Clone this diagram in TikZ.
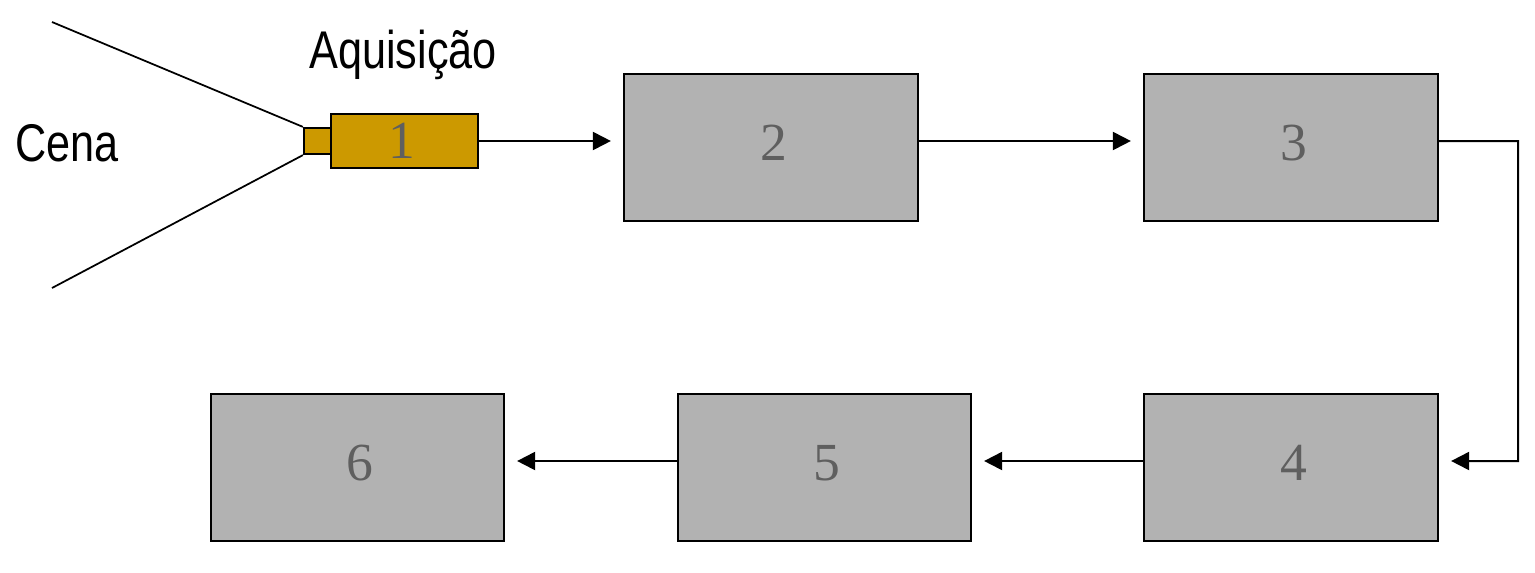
\documentclass[tikz,border=0pt]{standalone}
\usepackage{fontspec}
\setmainfont{Liberation Serif}
\newfontfamily\labelfont[FakeStretch=0.815]{Liberation Sans}
\usetikzlibrary{positioning,arrows.meta,calc}
\definecolor{boxgray}{HTML}{B2B2B2}
\definecolor{numgray}{HTML}{5F5F5F}
\definecolor{camgold}{HTML}{CC9900}
\tikzset{
  stagebox/.style={draw=black,line width=0.045cm,fill=boxgray,minimum height=2.94cm,inner sep=0pt,
    text=numgray,text depth=0.2cm,font=\fontsize{30.5}{32}\selectfont,execute at begin node={\kern0.1cm}},
  cambox/.style={draw=black,line width=0.045cm,fill=camgold,inner sep=0pt},
  conn/.style={-{Triangle[length=0.36cm,width=0.36cm]},line width=0.04cm,shorten >=0.24cm},
  ray/.style={line width=0.035cm},
  caption/.style={inner sep=0pt,anchor=base west,font=\labelfont\fontsize{30.2}{32}\selectfont},
}
\begin{document}
\begin{tikzpicture}[x=0.02cm,y=-0.02cm]
\useasboundingbox (0,0) rectangle (1535,572);
% Stages 2 to 6
\foreach \n/\x/\y/\w in {2/771/147.5/5.88,3/1291/147.5/5.88,4/1291/467.5/5.88,5/824.5/467.5/5.86,6/357.5/467.5/5.86} {
  \node[stagebox,minimum width=\w cm] (stage\n) at (\x,\y) {\n};
}
% Camera
\node[cambox,minimum width=2.94cm,minimum height=1.08cm,text=numgray,font=\fontsize{30.5}{32}\selectfont] (stage1) at (404.5,141) {\kern-0.12cm 1};
\node[cambox,minimum width=0.54cm,minimum height=0.52cm,left=-0.045cm of stage1] (lens) {};
% Field of view
\coordinate (raytop) at (52,22);
\coordinate (raybot) at (52,288);
\draw[ray] (raytop) -- (lens.north west);
\draw[ray] (raybot) -- (lens.south west);
% Labels
\node[caption] (scene) at (15,161) {Cena};
\node[caption] (acq) at (309,68) {Aquisição};
% Exit points, level with the camera axis
\coordinate (out2) at ([yshift=0.13cm]stage2.east);
\coordinate (out3) at ([yshift=0.13cm]stage3.east);
\coordinate (in4) at ([yshift=0.13cm]stage4.east);
\coordinate (out4) at ([yshift=0.13cm]stage4.west);
\coordinate (out5) at ([yshift=0.13cm]stage5.west);
\coordinate (corner) at (1518,141);
% Connectors
\draw[conn] (stage1.east) -- (stage1.east -| stage2.west);
\draw[conn] (out2) -- (out2 -| stage3.west);
\draw[conn] (out3) -- (corner) -- (corner |- in4) -- (in4);
\draw[conn] (out4) -- (out4 -| stage5.east);
\draw[conn] (out5) -- (out5 -| stage6.east);
\end{tikzpicture}
\end{document}
